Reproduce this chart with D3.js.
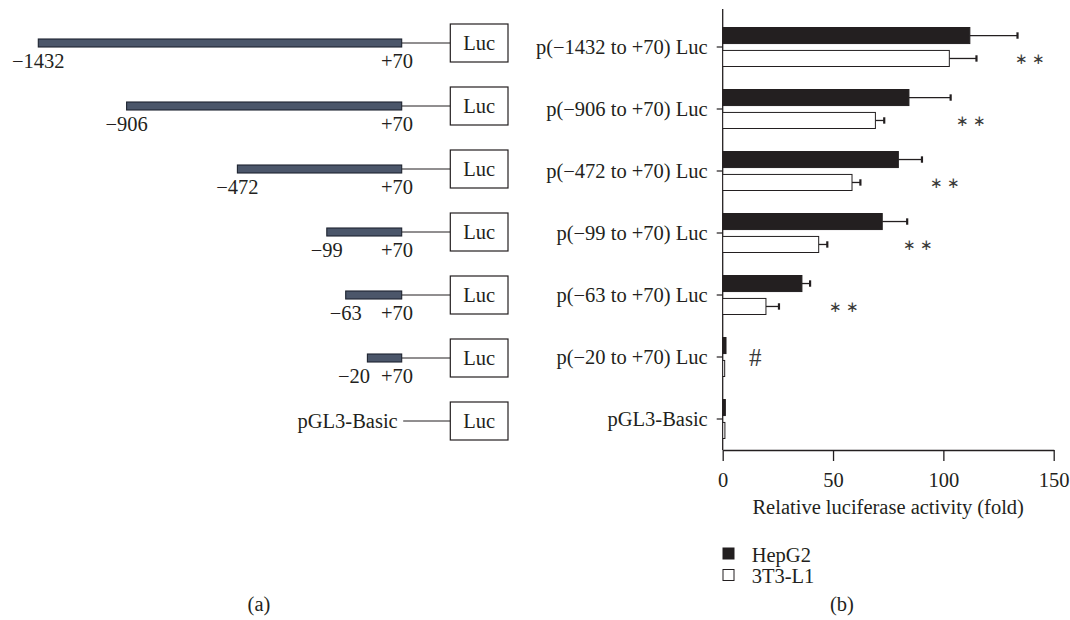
<!DOCTYPE html>
<html><head><meta charset="utf-8">
<script src="https://cdn.jsdelivr.net/npm/d3@7"></script>
<style>
body{margin:0;background:#fff}
svg{display:block}
text{font-family:"Liberation Serif","Times New Roman",serif;fill:#231f20;font-size:20.5px}
</style>
</head><body><svg id="c" width="1070" height="620"></svg>
<script>
// ---------- data ----------
const constructStarts = [-1432, -906, -472, -99, -63, -20, null];
const constructEnd = 70;
const reporterLabel = "Luc";
const basicLabel = "pGL3-Basic";
const categories = ["p(−1432 to +70) Luc", "p(−906 to +70) Luc", "p(−472 to +70) Luc",
  "p(−99 to +70) Luc", "p(−63 to +70) Luc", "p(−20 to +70) Luc", "pGL3-Basic"];
const seriesNames = ["HepG2", "3T3-L1"];
const hepg2 = [112, 84.4, 79.6, 72.3, 35.9, 1.5, 1.2];
const hepg2Err = [21.6, 18.9, 10.7, 11.3, 3.7, 0, 0];
const l1 = [102.7, 69.2, 58.6, 43.5, 19.6, 0.9, 1.0];
const l1Err = [12.3, 4.0, 3.8, 3.9, 5.9, 0, 0];
const sigLabels = ["∗∗", "∗∗", "∗∗", "∗∗", "∗∗", "#", ""];
const sigPos = [140, 113.4, 101.5, 89.2, 56.1, 14.8, null];
const xTicks = [0, 50, 100, 150];
const xTitle = "Relative luciferase activity (fold)";

const fmt = v => (v < 0 ? "−" + Math.abs(v) : "+" + v);
const ink = "#231f20";
const svg = d3.select("#c");

// ---------- panel (a): schematic constructs ----------
const xL = d3.scaleLinear()
  .domain([-1432, -906, -472, -99, -63, -20, 70])
  .range([38.3, 126.6, 237.4, 326.8, 345.7, 367.4, 401.7]);
const yL = d3.scaleBand().domain(d3.range(constructStarts.length)).range([11.5, 452.5]);
const boxX = 450.3, boxW = 57.7, boxH = 38;
const gA = svg.append("g");
constructStarts.forEach((s, i) => {
  const cy = yL(i) + yL.bandwidth() / 2;
  const plusCx = xL(constructEnd) - 4.7;
  if (s !== null) {
    gA.append("line").attr("x1", xL(constructEnd)).attr("x2", boxX).attr("y1", cy).attr("y2", cy)
      .attr("stroke", ink).attr("stroke-width", 1);
    gA.append("rect").attr("x", xL(s)).attr("y", cy - 4).attr("width", xL(constructEnd) - xL(s)).attr("height", 8)
      .attr("fill", "#4b566a").attr("stroke", "#1e2430").attr("stroke-width", 1.1);
    gA.append("text").attr("x", Math.min(xL(s), plusCx - 43)).attr("y", cy + 25).attr("text-anchor", "middle").text(fmt(s));
    gA.append("text").attr("x", plusCx).attr("y", cy + 25).attr("text-anchor", "middle").text(fmt(constructEnd));
  } else {
    gA.append("line").attr("x1", xL(constructEnd) + 1.5).attr("x2", boxX).attr("y1", cy).attr("y2", cy)
      .attr("stroke", ink).attr("stroke-width", 1);
    gA.append("text").attr("x", xL(constructEnd) - 4).attr("y", cy).attr("dy", "0.33em").attr("text-anchor", "end").text(basicLabel);
  }
  gA.append("rect").attr("x", boxX).attr("y", cy - boxH / 2).attr("width", boxW).attr("height", boxH)
    .attr("fill", "#fff").attr("stroke", ink).attr("stroke-width", 1.2);
  gA.append("text").attr("x", boxX + boxW / 2).attr("y", cy).attr("dy", "0.33em").attr("text-anchor", "middle").text(reporterLabel);
});
svg.append("text").attr("x", 259).attr("y", 611).attr("text-anchor", "middle").text("(a)");

// ---------- panel (b): bar chart ----------
const x = d3.scaleLinear().domain([0, 150]).range([722.7, 1053.7]);
const y0 = d3.scaleBand().domain(categories).range([16, 450]);
const y1 = d3.scaleBand().domain(seriesNames).range([0, 39]).paddingInner(0.3);
const off = (y0.bandwidth() - 39) / 2;
const gB = svg.append("g");

// y axis
gB.append("line").attr("x1", x(0)).attr("x2", x(0)).attr("y1", 9).attr("y2", 450).attr("stroke", ink).attr("stroke-width", 1.3);
categories.forEach(c => {
  const cy = y0(c) + y0.bandwidth() / 2;
  gB.append("line").attr("x1", x(0) - 6).attr("x2", x(0)).attr("y1", cy).attr("y2", cy).attr("stroke", ink).attr("stroke-width", 1.2);
  gB.append("text").attr("x", x(0) - 15).attr("y", cy).attr("dy", "0.33em").attr("text-anchor", "end").text(c);
});

// x axis
const xa = gB.append("g").attr("transform", "translate(0,450)")
  .call(d3.axisBottom(x).tickValues(xTicks).tickSize(11).tickSizeOuter(0).tickPadding(11));
xa.select(".domain").attr("stroke", ink).attr("stroke-width", 1.3);
xa.selectAll(".tick line").attr("stroke", ink).attr("stroke-width", 1.3);
xa.selectAll(".tick text").attr("font-size", 20.5).attr("font-family", '"Liberation Serif",serif').attr("fill", ink);
gB.append("text").attr("x", (x(0) + x(150)) / 2).attr("y", 514).attr("text-anchor", "middle").text(xTitle);

// bars
const seriesData = [
  {name: "HepG2", vals: hepg2, errs: hepg2Err, fill: ink},
  {name: "3T3-L1", vals: l1, errs: l1Err, fill: "#fff"}
];
seriesData.forEach(sd => {
  categories.forEach((c, i) => {
    const top = y0(c) + off + y1(sd.name);
    const h = y1.bandwidth();
    const v = sd.vals[i], e = sd.errs[i];
    const cy = top + h / 2;
    if (e > 0) {
      gB.append("line").attr("x1", x(v)).attr("x2", x(v + e)).attr("y1", cy).attr("y2", cy).attr("stroke", ink).attr("stroke-width", 1.3);
      gB.append("line").attr("x1", x(v + e)).attr("x2", x(v + e)).attr("y1", cy - 3.2).attr("y2", cy + 3.2).attr("stroke", ink).attr("stroke-width", 2.2);
    }
    gB.append("rect").attr("x", x(0)).attr("y", top).attr("width", x(v) - x(0)).attr("height", h)
      .attr("fill", sd.fill).attr("stroke", ink).attr("stroke-width", 1);
  });
});

// significance marks
categories.forEach((c, i) => {
  if (sigPos[i] === null) return;
  const isHash = sigLabels[i] === "#";
  const cy = y0(c) + y0.bandwidth() / 2 + (isHash ? 0 : 11.5);
  gB.append("text").attr("x", x(sigPos[i])).attr("y", cy).attr("dy", "0.35em").attr("text-anchor", "middle")
    .style("fill", "#3a3a3a").style("font-size", isHash ? "25px" : "15px")
    .attr("letter-spacing", isHash ? 0 : 4).text(sigLabels[i]);
});

// legend
seriesData.forEach((sd, i) => {
  const ly = 548 + i * 21.5;
  svg.append("rect").attr("x", 723).attr("y", ly).attr("width", 11).attr("height", 11)
    .attr("fill", sd.fill).attr("stroke", ink).attr("stroke-width", 1);
  svg.append("text").attr("x", 751.7).attr("y", ly + 13.5).text(sd.name);
});
svg.append("text").attr("x", 842).attr("y", 611).attr("text-anchor", "middle").text("(b)");
</script>
</body></html>
